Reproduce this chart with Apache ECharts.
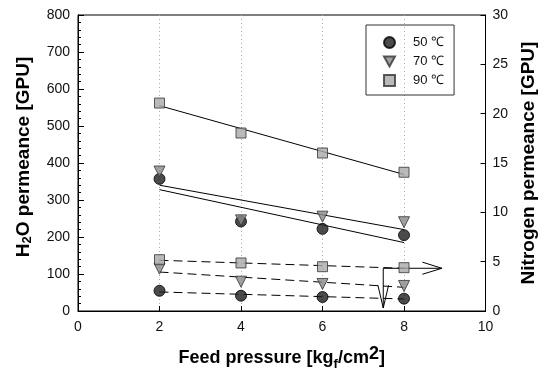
<!DOCTYPE html>
<html>
<head>
<meta charset="utf-8">
<script src="https://cdn.jsdelivr.net/npm/echarts@6/dist/echarts.min.js"></script>
<style>html,body{margin:0;padding:0;background:#fff;}#chart{width:546px;height:380px;}</style>
</head>
<body>
<div id="chart"></div>
<script>
// ---- data ----
const pressure = [2, 4, 6, 8];
const h2o50 = [357, 242, 222, 205];
const h2o70 = [377, 245, 255, 240];
const h2o90 = [562, 481, 427, 375];
const n2_50 = [2.05, 1.55, 1.42, 1.25];
const n2_70 = [4.29, 2.97, 2.74, 2.54];
const n2_90 = [5.20, 4.87, 4.49, 4.39];
// straight trend lines (end points)
const fitX = [2, 8];
const h2oFit50 = [328, 185];
const h2oFit70 = [340, 220];
const h2oFit90 = [555, 369];
const n2Fit50 = [1.93, 1.22];
const n2Fit70 = [3.95, 2.40];
const n2Fit90 = [5.14, 4.33];
// annotation arrows (in data units, right axis)
const arrowH = [[7.49, 4.33], [8.93, 4.33]];
const arrowHHead = [[8.45, 4.95], [8.93, 4.33], [8.45, 3.72]];
const arrowV = [[7.49, 4.33], [7.49, 0.3]];
const arrowVHead = [[7.36, 2.6], [7.49, 0.3], [7.62, 2.6]];
const legendNames = ['50 \u2103', '70 \u2103', '90 \u2103'];

const pts = (xs, ys) => xs.map((x, i) => [x, ys[i]]);
const FONT = 'Liberation Sans, Arial, sans-serif';
const DOWN_TRI = 'path://M0,0 L10,0 L5,9 Z';

const markerStyles = [
  {symbol: 'circle', symbolSize: 11, symbolRotate: 0, itemStyle: {color: '#1e1e1e', borderColor: '#000', borderWidth: 1}},
  {symbol: 'triangle', symbolSize: 11, symbolRotate: 180, itemStyle: {color: '#8a8a8a', borderColor: '#333', borderWidth: 1}},
  {symbol: 'rect', symbolSize: 10, symbolRotate: 0, itemStyle: {color: '#a9a9a9', borderColor: '#333', borderWidth: 1}}
];
const legendIcons = ['circle', DOWN_TRI, 'rect'];

function scatter(name, ys, idx, axis) {
  const m = markerStyles[idx];
  return {type: 'scatter', name: name, yAxisIndex: axis, data: pts(pressure, ys),
    symbol: m.symbol, symbolSize: m.symbolSize, symbolRotate: m.symbolRotate,
    itemStyle: m.itemStyle, z: 5, emphasis: {disabled: true}};
}
function line(data, axis, dashed) {
  return {type: 'line', yAxisIndex: axis, data: data, showSymbol: false, symbol: 'none',
    lineStyle: {color: '#000', width: 1, type: dashed ? [9, 5] : 'solid'}, z: 3,
    silent: true, animation: false};
}

const chart = echarts.init(document.getElementById('chart'));
chart.setOption({
  animation: false,
  backgroundColor: '#fff',
  grid: {left: 78, right: 56, top: 15, bottom: 69, show: true, borderColor: '#000', borderWidth: 1, backgroundColor: 'transparent'},
  legend: {
    data: legendNames.map((n, i) => ({name: n, icon: legendIcons[i]})),
    orient: 'vertical',
    left: 366, top: 25,
    padding: [11, 10, 8, 17],
    borderColor: '#333', borderWidth: 1,
    itemWidth: 11, itemHeight: 11, itemGap: 6,
    textStyle: {fontFamily: FONT, fontSize: 13, color: '#111', padding: [0, 0, 0, 13]},
    selectedMode: false
  },
  xAxis: {
    type: 'value', min: 0, max: 10, interval: 2,
    name: 'Feed pressure [kg{sub|f}/cm{sup|2}]',
    nameLocation: 'middle', nameGap: 34,
    nameTextStyle: {fontFamily: FONT, fontSize: 18, fontWeight: 'bold', color: '#000',
      rich: {sub: {fontFamily: FONT, fontSize: 13, fontWeight: 'bold', verticalAlign: 'bottom', padding: [6, 0, 0, 0]},
             sup: {fontFamily: FONT, fontSize: 18, fontWeight: 'bold', verticalAlign: 'top', padding: [0, 0, 8, 0]}}},
    axisLine: {show: true, lineStyle: {color: '#000', width: 1}},
    axisTick: {show: true, inside: true, length: 5, lineStyle: {color: '#000'}},
    axisLabel: {fontFamily: FONT, fontSize: 14, color: '#111', margin: 9},
    splitLine: {show: true, lineStyle: {color: '#aaa', type: [1, 3], width: 1}}
  },
  yAxis: [
    {
      type: 'value', min: 0, max: 800, interval: 100, position: 'left',
      name: 'H{sub|2}O permeance [GPU]',
      nameLocation: 'middle', nameGap: 44, nameRotate: 90,
      nameTextStyle: {fontFamily: FONT, fontSize: 19, fontWeight: 'bold', color: '#000', padding: [0, 0, 0, 12],
        rich: {sub: {fontFamily: FONT, fontSize: 13, fontWeight: 'bold', verticalAlign: 'bottom', padding: [7, 0, 0, 0]}}},
      axisLine: {show: true, lineStyle: {color: '#000', width: 1}},
      axisTick: {show: true, inside: true, length: 6, lineStyle: {color: '#000'}},
      axisLabel: {fontFamily: FONT, fontSize: 14, color: '#111', margin: 8},
      splitLine: {show: false}
    },
    {
      type: 'value', min: 0, max: 30, interval: 5, position: 'right',
      name: 'Nitrogen permeance [GPU]',
      nameLocation: 'middle', nameGap: 30, nameRotate: 90,
      nameTextStyle: {fontFamily: FONT, fontSize: 19, fontWeight: 'bold', color: '#000'},
      axisLine: {show: true, lineStyle: {color: '#000', width: 1}},
      axisTick: {show: true, inside: true, length: 5, lineStyle: {color: '#000'}},
      axisLabel: {fontFamily: FONT, fontSize: 14, color: '#111', margin: 7},
      splitLine: {show: false}
    },
    {
      // minor ticks of the left axis (every 20)
      type: 'value', min: 0, max: 800, interval: 20, position: 'left', offset: 0,
      axisLine: {show: true, lineStyle: {color: '#000', width: 1}},
      axisTick: {show: true, inside: true, length: 3, lineStyle: {color: '#000'}},
      axisLabel: {show: false},
      splitLine: {show: false}
    }
  ],
  series: [
    scatter(legendNames[0], h2o50, 0, 0),
    scatter(legendNames[1], h2o70, 1, 0),
    scatter(legendNames[2], h2o90, 2, 0),
    scatter('N2 50', n2_50, 0, 1),
    scatter('N2 70', n2_70, 1, 1),
    scatter('N2 90', n2_90, 2, 1),
    line(pts(fitX, h2oFit50), 0, false),
    line(pts(fitX, h2oFit70), 0, false),
    line(pts(fitX, h2oFit90), 0, false),
    line(pts(fitX, n2Fit50), 1, true),
    line(pts(fitX, n2Fit70), 1, true),
    line(pts(fitX, n2Fit90), 1, true),
    line(arrowH, 1, false),
    line(arrowHHead, 1, false),
    line(arrowV, 1, false),
    line(arrowVHead, 1, false)
  ]
});
</script>
</body>
</html>
